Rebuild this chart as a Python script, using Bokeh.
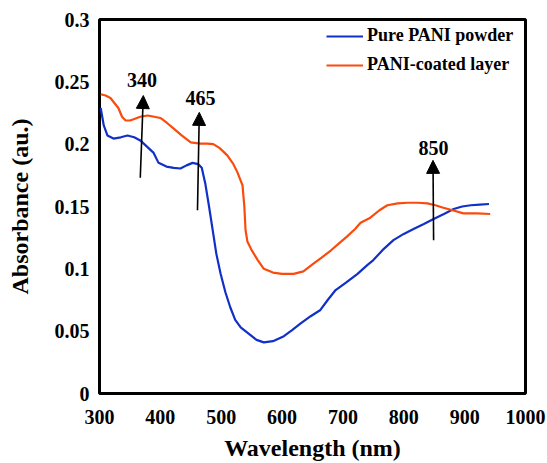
from bokeh.plotting import figure
from bokeh.models import Range1d, FixedTicker, Arrow, NormalHead, Legend, LegendItem, ColumnDataSource, LabelSet
from bokeh.core.properties import value
from bokeh.embed import file_html
from bokeh.resources import INLINE

# ---- data ----
blue_x = [302, 307, 313, 323, 335, 346, 357, 367, 378, 389, 397, 410, 422, 433, 443, 453, 462, 468,
          474, 480, 486, 492, 499, 507, 515, 523, 532, 545, 558, 570, 585, 603, 617, 630, 647, 663,
          675, 688, 705, 724, 740, 750, 765, 783, 800, 816, 833, 849, 866, 882, 896, 910, 925, 940]
blue_y = [0.229, 0.215, 0.207, 0.2045, 0.2055, 0.207, 0.2055, 0.203, 0.198, 0.193, 0.185, 0.182,
          0.181, 0.1805, 0.183, 0.185, 0.184, 0.181, 0.168, 0.150, 0.131, 0.112, 0.096, 0.081,
          0.069, 0.059, 0.053, 0.048, 0.043, 0.041, 0.042, 0.046, 0.051, 0.056, 0.062, 0.067,
          0.075, 0.083, 0.089, 0.096, 0.103, 0.107, 0.115, 0.123, 0.128, 0.132, 0.136, 0.140,
          0.144, 0.148, 0.150, 0.151, 0.1515, 0.152]

orange_x = [302, 310, 318, 331, 337, 343, 350, 356, 367, 379, 390, 400, 411, 422, 435, 450, 465,
            477, 487, 497, 510, 520, 527, 535, 538, 540, 543, 550, 560, 570, 585, 600, 619, 635,
            651, 665, 680, 695, 707, 720, 729, 745, 760, 773, 790, 806, 823, 839, 852, 865, 880,
            898, 920, 942]
orange_y = [0.240, 0.239, 0.237, 0.229, 0.222, 0.219, 0.219, 0.220, 0.222, 0.223, 0.222, 0.221,
            0.217, 0.2125, 0.207, 0.2015, 0.2005, 0.2005, 0.200, 0.197, 0.191, 0.184, 0.177,
            0.167, 0.150, 0.131, 0.122, 0.115, 0.107, 0.100, 0.097, 0.096, 0.096, 0.098, 0.104,
            0.109, 0.1147, 0.121, 0.126, 0.132, 0.137, 0.141, 0.147, 0.151, 0.1525, 0.153,
            0.153, 0.1525, 0.151, 0.149, 0.147, 0.1445, 0.1445, 0.144]

series_names = ["Pure PANI powder", "PANI-coated layer"]

arrow_x0 = [367, 461, 849]
arrow_y0 = [0.173, 0.147, 0.123]
arrow_x1 = [372, 464, 848]
arrow_y1 = [0.239, 0.2255, 0.187]
peak_labels = ["340", "465", "850"]
peak_label_x = [370, 466, 849]
peak_label_y = [0.2455, 0.2315, 0.1915]

x_ticks = [300, 400, 500, 600, 700, 800, 900, 1000]
y_ticks = [0, 0.05, 0.1, 0.15, 0.2, 0.25, 0.3]
y_tick_labels = ["0", "0.05", "0.1", "0.15", "0.2", "0.25", "0.3"]

FONT = "Liberation Serif"
BLUE = "#1030c8"
ORANGE = "#fa4b0c"

p = figure(width=547, height=463, output_backend="svg", toolbar_location=None,
           x_range=Range1d(300, 1000), y_range=Range1d(0, 0.3),
           min_border_left=99, min_border_right=22, min_border_top=19, min_border_bottom=70)

p.background_fill_color = "white"
p.border_fill_color = "white"
p.outline_line_color = "black"
p.outline_line_width = 3
p.grid.visible = False

for ax in (p.xaxis[0], p.yaxis[0]):
    ax.axis_line_color = None
    ax.major_tick_line_color = None
    ax.minor_tick_line_color = None
    ax.major_tick_out = 0
    ax.major_tick_in = 0
    ax.minor_tick_out = 0
    ax.minor_tick_in = 0
    ax.major_label_text_font = FONT
    ax.major_label_text_font_style = "bold"
    ax.major_label_text_font_size = "20px"
    ax.major_label_text_color = "black"
    ax.axis_label_text_font = FONT
    ax.axis_label_text_font_style = "bold"
    ax.axis_label_text_font_size = "24px"
    ax.axis_label_text_color = "black"

p.xaxis.ticker = FixedTicker(ticks=x_ticks)
p.yaxis.ticker = FixedTicker(ticks=y_ticks)
p.yaxis.major_label_overrides = {t: l for t, l in zip(y_ticks, y_tick_labels)}
p.xaxis.axis_label = "Wavelength (nm)"
p.yaxis.axis_label = "Absorbance (au.)"
p.xaxis.major_label_standoff = 16
p.yaxis.major_label_standoff = 10
p.xaxis.axis_label_standoff = 8
p.yaxis.axis_label_standoff = 19

r_blue = p.line(blue_x, blue_y, line_color=BLUE, line_width=2.2)
r_orange = p.line(orange_x, orange_y, line_color=ORANGE, line_width=2.2)

for x0, y0, x1, y1 in zip(arrow_x0, arrow_y0, arrow_x1, arrow_y1):
    p.add_layout(Arrow(x_start=x0, y_start=y0, x_end=x1, y_end=y1,
                       line_color="black", line_width=1.6,
                       end=NormalHead(size=13, fill_color="black", line_color="black", line_width=1)))

src = ColumnDataSource(dict(x=peak_label_x, y=peak_label_y, t=peak_labels))
p.add_layout(LabelSet(x="x", y="y", text="t", source=src, text_align="center",
                      text_baseline="bottom", text_font=value(FONT), text_font_style="bold",
                      text_font_size="20px", text_color="black"))

legend = Legend(items=[LegendItem(label=series_names[0], renderers=[r_blue]),
                       LegendItem(label=series_names[1], renderers=[r_orange])],
                location=(227, 318), padding=0, margin=0, spacing=8,
                glyph_width=37, glyph_height=20, label_height=20, label_standoff=4,
                label_text_font=FONT, label_text_font_style="bold", label_text_font_size="18px",
                label_text_color="black", border_line_color=None, background_fill_alpha=0)
p.add_layout(legend)

open("out.html", "w").write(file_html(p, INLINE))
